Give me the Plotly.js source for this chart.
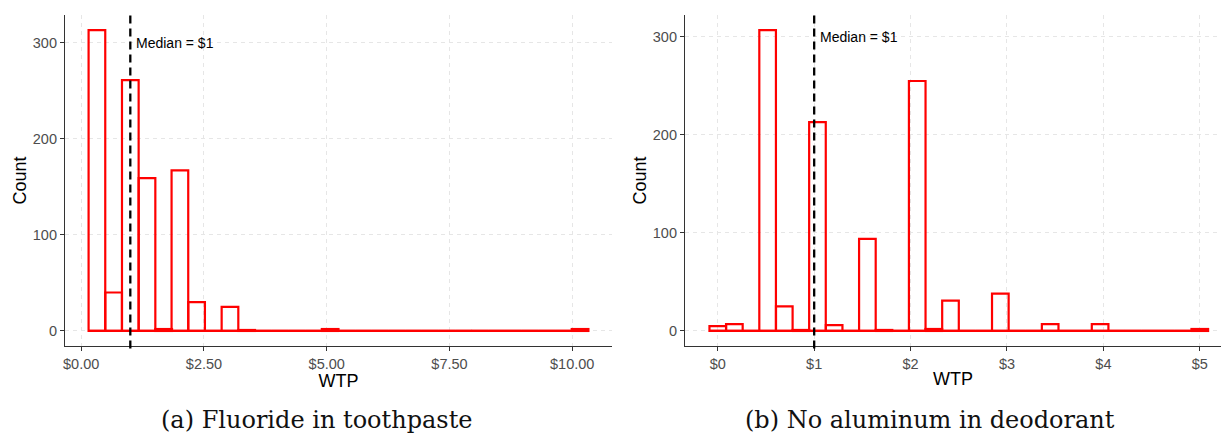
<!DOCTYPE html>
<html><head><meta charset="utf-8">
<script src="https://cdn.plot.ly/plotly-3.0.1.min.js"></script>
<style>body{margin:0;background:#fff}#chart{width:1223px;height:434px}</style>
</head><body><div id="chart"></div>
<script>
// Panel (a): Fluoride in toothpaste
const fluorideBinCenters = [0.32, 0.66, 1.00, 1.34, 1.68, 2.01, 2.35, 2.69, 3.03, 3.37, 3.71, 4.05, 4.39, 4.73, 5.07, 5.41, 5.75, 6.09, 6.43, 6.77, 7.11, 7.45, 7.79, 8.12, 8.46, 8.80, 9.14, 9.48, 9.82, 10.16];
const fluorideCounts = [313, 40, 261, 159, 2, 167, 30, 0, 25, 1, 0, 0, 0, 0, 2, 0, 0, 0, 0, 0, 0, 0, 0, 0, 0, 0, 0, 0, 0, 2];
const fluorideBinWidth = 0.3393;
const fluorideMedian = 1;
const fluorideTickVals = [0, 2.5, 5, 7.5, 10];
const fluorideTickText = ["$0.00", "$2.50", "$5.00", "$7.50", "$10.00"];

// Panel (b): No aluminum in deodorant
const aluminumBinCenters = [0, 0.172, 0.345, 0.517, 0.690, 0.862, 1.034, 1.207, 1.379, 1.552, 1.724, 1.897, 2.069, 2.241, 2.414, 2.586, 2.759, 2.931, 3.103, 3.276, 3.448, 3.621, 3.793, 3.966, 4.138, 4.310, 4.483, 4.655, 4.828, 5.0];
const aluminumCounts = [5, 7, 0, 307, 25, 1, 213, 6, 0, 94, 1, 0, 255, 2, 31, 0, 0, 38, 0, 0, 7, 0, 0, 7, 0, 0, 0, 0, 0, 2];
const aluminumBinWidth = 0.1724;
const aluminumMedian = 1;
const aluminumTickVals = [0, 1, 2, 3, 4, 5];
const aluminumTickText = ["$0", "$1", "$2", "$3", "$4", "$5"];

const countTicks = [0, 100, 200, 300];
const captions = ["(a) Fluoride in toothpaste", "(b) No aluminum in deodorant"];
const medianLabel = "Median = $1";

const RED = "#FF0000";

function histTraces(centers, counts, w, xa, ya) {
  return [
    {type: "bar", x: centers, y: counts, width: w, xaxis: xa, yaxis: ya,
     marker: {color: "rgba(255,255,255,0)", line: {color: RED, width: 2.2}},
     hoverinfo: "x+y", showlegend: false},
    {type: "scatter", mode: "lines", xaxis: xa, yaxis: ya,
     x: [centers[0] - w / 2, centers[centers.length - 1] + w / 2], y: [0, 0],
     line: {color: RED, width: 2.2}, hoverinfo: "skip", showlegend: false}
  ];
}

const data = [].concat(
  histTraces(fluorideBinCenters, fluorideCounts, fluorideBinWidth, "x", "y"),
  histTraces(aluminumBinCenters, aluminumCounts, aluminumBinWidth, "x2", "y2")
);

const SANS = "Liberation Sans, Arial, sans-serif";
const tickFont = {family: SANS, size: 14.5, color: "#4D4D4D"};
const titleFont = {family: SANS, size: 18, color: "#000"};
const yDom = [(434 - 346) / 434, (434 - 15) / 434];
const GRID = "#E6E6E6";

function xAxis(domain, range, vals, text) {
  return {domain: domain, range: range, tickmode: "array", tickvals: vals, ticktext: text,
    showline: true, linecolor: "#333", linewidth: 1.1, ticks: "outside", ticklen: 4, tickcolor: "#333",
    tickfont: tickFont, showgrid: true, gridcolor: GRID, griddash: "4px,4px", gridwidth: 1,
    zeroline: false, title: {text: "WTP", font: titleFont, standoff: 1}};
}
function yAxis(range, anchor) {
  return {domain: yDom, range: range, anchor: anchor, tickmode: "array", tickvals: countTicks,
    showline: true, linecolor: "#333", linewidth: 1.1, ticks: "outside", ticklen: 4, tickcolor: "#333",
    tickfont: tickFont, showgrid: true, gridcolor: GRID, griddash: "4px,4px", gridwidth: 1,
    zeroline: false, title: {text: "Count", font: titleFont, standoff: 1}};
}

const layout = {
  width: 1223, height: 434, margin: {l: 0, r: 0, t: 0, b: 0},
  paper_bgcolor: "#fff", plot_bgcolor: "#fff", showlegend: false, bargap: 0,
  font: {family: SANS},
  xaxis: xAxis([65 / 1223, 612 / 1223], [-0.33, 10.81], fluorideTickVals, fluorideTickText),
  yaxis: yAxis([-15.65, 328.65], "x"),
  xaxis2: Object.assign(xAxis([685 / 1223, 1221 / 1223], [-0.34, 5.22], aluminumTickVals, aluminumTickText), {anchor: "y2"}),
  yaxis2: yAxis([-15.35, 322.35], "x2"),
  shapes: [
    {type: "line", xref: "x", yref: "paper", x0: fluorideMedian, x1: fluorideMedian, y0: yDom[0] - 0.006, y1: yDom[1] + 0.004,
     line: {color: "#000", width: 2.3, dash: "8px,5px"}},
    {type: "line", xref: "x2", yref: "paper", x0: aluminumMedian, x1: aluminumMedian, y0: yDom[0] - 0.006, y1: yDom[1] + 0.004,
     line: {color: "#000", width: 2.3, dash: "8px,5px"}}
  ],
  annotations: [
    {xref: "x", yref: "y", x: fluorideMedian, y: 300, text: medianLabel, showarrow: false, xanchor: "left", xshift: 4,
     font: {family: SANS, size: 14, color: "#000"}},
    {xref: "x2", yref: "y2", x: aluminumMedian, y: 300, text: medianLabel, showarrow: false, xanchor: "left", xshift: 4,
     font: {family: SANS, size: 14, color: "#000"}},
    {xref: "paper", yref: "paper", x: 316 / 1223, y: (434 - 420) / 434, text: captions[0], showarrow: false,
     xanchor: "center", yanchor: "middle", font: {family: "DejaVu Serif, serif", size: 24, color: "#111"}},
    {xref: "paper", yref: "paper", x: 930 / 1223, y: (434 - 420) / 434, text: captions[1], showarrow: false,
     xanchor: "center", yanchor: "middle", font: {family: "DejaVu Serif, serif", size: 24, color: "#111"}}
  ]
};

Plotly.newPlot("chart", data, layout, {staticPlot: true, displayModeBar: false});
</script>
</body></html>
